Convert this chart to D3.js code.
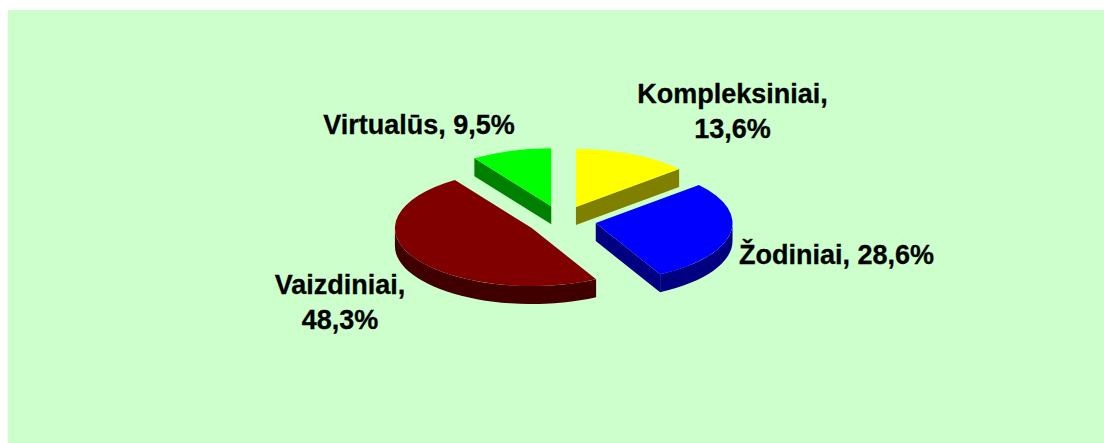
<!DOCTYPE html>
<html><head><meta charset="utf-8">
<script src="https://cdn.jsdelivr.net/npm/d3@7"></script>
<style>html,body{margin:0;padding:0;background:#fff}svg{display:block}</style>
</head><body><svg id="c" width="1104" height="443"></svg>
<script>
const categories = ["Kompleksiniai", "Žodiniai", "Vaizdiniai", "Virtualūs"];
const values = [13.6, 28.6, 48.3, 9.5];
const topColors = ["#ffff00", "#0000ff", "#800000", "#00ff00"];
const sideColors = ["#808000", "#000080", "#400000", "#008000"];
const labelLines = [["Kompleksiniai,", "13,6%"], ["Žodiniai, 28,6%"], ["Vaizdiniai,", "48,3%"], ["Virtualūs, 9,5%"]];
const labelPos = [[732.5, 102.5], [836.5, 263.5], [340, 293.5], [419, 133.5]];

const W = 1104, H = 443, cx = 561.5, cy = 220.4, rx = 136.8, ry = 58, depth = 18, explode = 34.8, fs = 27, lh = 35.5;
const svg = d3.select("#c");
svg.append("rect").attr("x", 8).attr("y", 10).attr("width", W - 8).attr("height", H - 10).attr("fill", "#ccffcc");

const arcs = d3.pie().value(d => d).sort(null)(values);
const order = [3, 0, 2, 1];
const unit = d3.arc().innerRadius(0).outerRadius(rx);

order.forEach(i => {
  const a = arcs[i], mid = (a.startAngle + a.endAngle) / 2;
  const ox = cx + explode * Math.sin(mid), oy = cy - explode * (ry / rx) * Math.cos(mid);
  const pt = (t, dz = 0) => [ox + rx * Math.sin(t), oy - ry * Math.cos(t) + dz];
  const g = svg.append("g");
  const wall = d => g.append("path").attr("d", d).attr("fill", sideColors[i]);
  const radial = t => {
    const p = pt(t);
    wall(`M${ox},${oy}L${p}L${p[0]},${p[1] + depth}L${ox},${oy + depth}Z`);
  };
  if (-Math.cos(a.startAngle - Math.PI / 2) > 0) radial(a.startAngle);
  if (-Math.cos(a.endAngle + Math.PI / 2) > 0) radial(a.endAngle);
  const s = Math.max(a.startAngle, Math.PI / 2), e = Math.min(a.endAngle, 3 * Math.PI / 2);
  if (e > s) {
    const p0 = pt(s), p1 = pt(e), p2 = pt(e, depth), p3 = pt(s, depth);
    wall(`M${p0}A${rx},${ry} 0 0 1 ${p1}L${p2}A${rx},${ry} 0 0 0 ${p3}Z`);
  }
  g.append("path")
    .attr("transform", `translate(${ox},${oy}) scale(1,${ry / rx})`)
    .attr("d", unit(a))
    .attr("fill", topColors[i]);
});

labelLines.forEach((lines, i) => {
  const t = svg.append("text").attr("text-anchor", "middle")
    .attr("font-family", "'Liberation Sans', Arial, sans-serif")
    .attr("font-weight", "bold").attr("font-size", fs).attr("fill", "#000")
    .attr("stroke", "#000").attr("stroke-width", 0.3);
  lines.forEach((l, k) => t.append("tspan").attr("x", labelPos[i][0]).attr("y", labelPos[i][1] + k * lh).text(l));
});
</script></body></html>
